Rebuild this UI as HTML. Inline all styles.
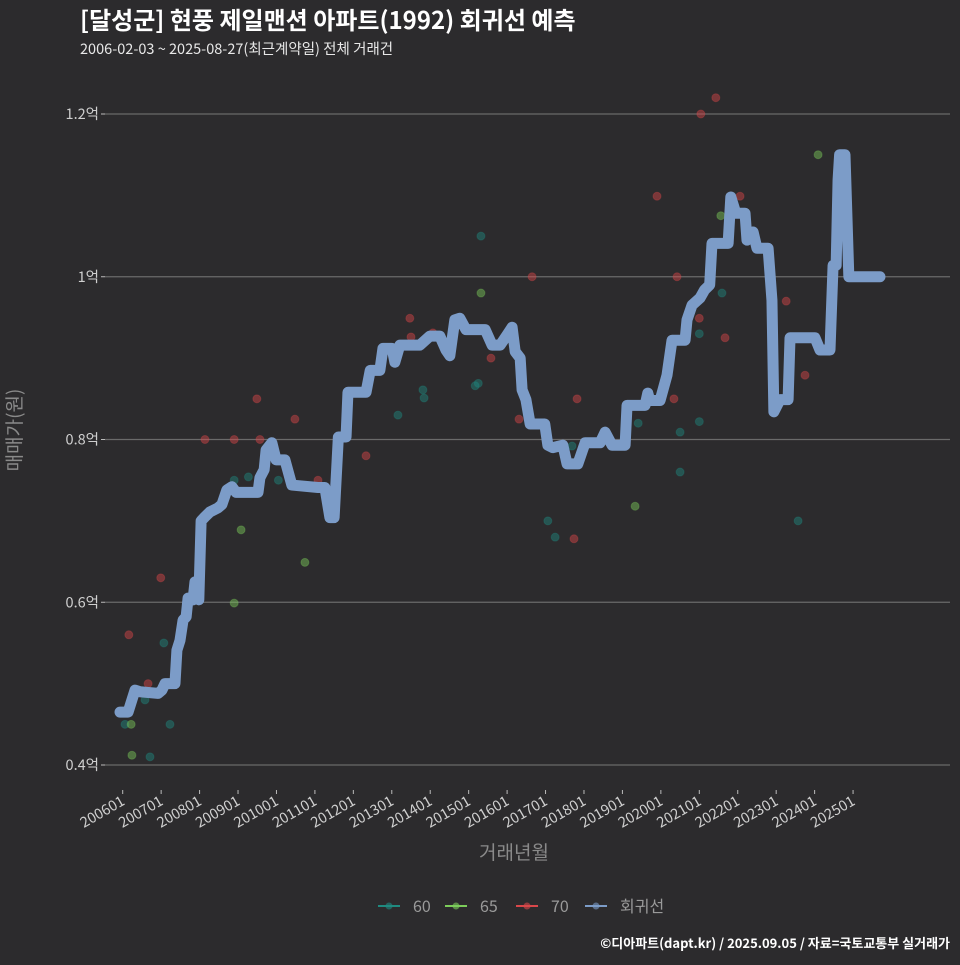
<!DOCTYPE html>
<html><head><meta charset="utf-8"><style>
html,body{margin:0;padding:0;background:#2c2b2d;}
svg text{font-family:"Noto Sans CJK KR","Liberation Sans",sans-serif;}
</style></head><body>
<svg id="chart" width="960" height="960" xmlns="http://www.w3.org/2000/svg">
<rect width="960" height="960" fill="#2c2b2d"/>
<text x="80" y="29" fill="#ffffff" font-size="24" font-weight="bold">[달성군] 현풍 제일맨션 아파트(1992) 회귀선 예측</text>
<text x="80" y="54" fill="#e8e8e8" font-size="14.5">2006-02-03 ~ 2025-08-27(최근계약일) 전체 거래건</text>
<g id="grid"></g>
<g id="xaxis"></g>
<g id="pts"></g>
<g id="line"></g>
<text transform="translate(21,430) rotate(-90)" text-anchor="middle" fill="#8a8a8a" font-size="19">매매가(원)</text>
<text x="514" y="859" text-anchor="middle" fill="#8a8a8a" font-size="19">거래년월</text>
<g id="legend"></g>
<text x="950" y="948" text-anchor="end" fill="#ffffff" font-size="13" font-weight="bold">©디아파트(dapt.kr) / 2025.09.05 / 자료=국토교통부 실거래가</text>
</svg>
<script>
const yTicks=[0.4,0.6,0.8,1.0,1.2];
const yTickLabels=["0.4억","0.6억","0.8억","1억","1.2억"];
const xTickYears=[2006,2007,2008,2009,2010,2011,2012,2013,2014,2015,2016,2017,2018,2019,2020,2021,2022,2023,2024,2025];
const xTickLabels=["200601","200701","200801","200901","201001","201101","201201","201301","201401","201501","201601","201701","201801","201901","202001","202101","202201","202301","202401","202501"];
const lineYears=[2005.93,2006.14,2006.32,2006.45,2006.92,2007.02,2007.10,2007.36,2007.41,2007.49,2007.57,2007.65,2007.70,2007.83,2007.88,2007.98,2008.04,2008.14,2008.27,2008.48,2008.58,2008.71,2008.84,2008.95,2009.52,2009.57,2009.68,2009.73,2009.88,2009.99,2010.22,2010.40,2011.08,2011.26,2011.39,2011.50,2011.61,2011.81,2011.86,2012.33,2012.44,2012.69,2012.77,2013.01,2013.08,2013.21,2013.73,2013.99,2014.25,2014.41,2014.51,2014.64,2014.77,2014.93,2015.43,2015.61,2015.82,2016.02,2016.13,2016.21,2016.34,2016.39,2016.49,2016.60,2016.98,2017.06,2017.19,2017.45,2017.56,2017.84,2018.03,2018.42,2018.55,2018.73,2019.07,2019.12,2019.59,2019.66,2019.71,2019.98,2020.16,2020.29,2020.63,2020.68,2020.81,2021.02,2021.14,2021.27,2021.33,2021.75,2021.82,2021.95,2022.19,2022.24,2022.40,2022.50,2022.79,2022.89,2022.94,2023.10,2023.31,2023.36,2024.01,2024.14,2024.40,2024.48,2024.56,2024.61,2024.65,2024.79,2024.89,2025.70];
const lineValues=[0.465,0.465,0.492,0.490,0.488,0.492,0.500,0.500,0.541,0.553,0.578,0.582,0.605,0.603,0.625,0.603,0.700,0.705,0.711,0.716,0.720,0.738,0.742,0.735,0.735,0.753,0.763,0.787,0.796,0.775,0.775,0.744,0.741,0.741,0.704,0.704,0.803,0.803,0.858,0.858,0.885,0.885,0.912,0.912,0.895,0.916,0.916,0.927,0.927,0.910,0.903,0.947,0.949,0.935,0.935,0.916,0.916,0.930,0.938,0.908,0.900,0.861,0.849,0.819,0.819,0.793,0.790,0.793,0.770,0.770,0.796,0.796,0.809,0.793,0.793,0.842,0.842,0.857,0.848,0.848,0.879,0.922,0.922,0.947,0.965,0.974,0.984,0.990,1.041,1.041,1.098,1.078,1.078,1.045,1.055,1.035,1.035,0.971,0.834,0.849,0.849,0.925,0.925,0.910,0.910,1.014,1.014,1.119,1.150,1.150,1.000,1.000];
const s60Years=[2006.06,2006.58,2006.71,2007.23,2007.07,2008.90,2009.27,2010.05,2013.16,2013.81,2013.84,2015.17,2015.25,2015.32,2017.06,2017.25,2019.41,2020.50,2020.50,2021.00,2021.00,2021.59,2023.57,2017.69];
const s60Values=[0.450,0.480,0.410,0.450,0.550,0.750,0.754,0.750,0.830,0.861,0.851,0.866,0.869,1.050,0.700,0.680,0.820,0.809,0.760,0.822,0.930,0.980,0.700,0.792];
const s65Years=[2006.22,2006.24,2009.08,2008.90,2010.74,2015.32,2019.33,2021.56,2024.09];
const s65Values=[0.450,0.412,0.689,0.599,0.649,0.980,0.718,1.075,1.150];
const s70Years=[2006.16,2006.99,2006.66,2008.14,2008.90,2009.49,2009.57,2010.48,2011.08,2012.33,2013.47,2013.50,2014.07,2015.58,2016.31,2016.65,2017.74,2017.82,2019.90,2020.42,2021.00,2021.04,2021.43,2021.67,2022.06,2023.26,2023.75,2020.34];
const s70Values=[0.560,0.630,0.500,0.800,0.800,0.850,0.800,0.825,0.750,0.780,0.949,0.926,0.931,0.900,0.825,1.000,0.678,0.850,1.099,1.000,0.949,1.200,1.220,0.925,1.099,0.970,0.879,0.850];

const NS="http://www.w3.org/2000/svg";
function X(yr){return 122.7+(yr-2006)*38.44;}
function Y(v){return 765-(v-0.4)*813.75;}
function mk(tag,attrs,parent){const e=document.createElementNS(NS,tag);for(const k in attrs)e.setAttribute(k,attrs[k]);parent.appendChild(e);return e;}
const grid=document.getElementById('grid');
yTicks.forEach((t,i)=>{
  const l=mk('line',{x1:105,x2:950,y1:Y(t),y2:Y(t),stroke:'#6a6a6a','stroke-width':1.2},grid);
  
  
  const tk=mk('line',{x1:101,x2:105,y1:Y(t),y2:Y(t),stroke:'#bbbbbb','stroke-width':1},grid);
  
  
  const tx=mk('text',{x:99,y:Y(t)+5,'text-anchor':'end',fill:'#cfcfcf','font-size':14.5},grid);
  tx.textContent=yTickLabels[i];
  
  
});
const xa=document.getElementById('xaxis');
xTickYears.forEach((yr,i)=>{
  const x=X(yr);
  const tk=mk('line',{x1:x,x2:x,y1:790,y2:794,stroke:'#bbbbbb','stroke-width':1},xa);
  
  
  const tx=mk('text',{x:0,y:0,'text-anchor':'end',fill:'#cfcfcf','font-size':14.5,transform:`translate(${x+3},${804}) rotate(-30)`},xa);
  tx.textContent=xTickLabels[i];
  
  
});
const pts=document.getElementById('pts');
function drawPts(ys,vs,col,name){
  ys.forEach((yr,i)=>{
    const c=mk('circle',{cx:X(yr),cy:Y(vs[i]),r:4,fill:col,'fill-opacity':0.45,stroke:col,'stroke-opacity':0.3,'stroke-width':1},pts);
    
    
  });
}
drawPts(s60Years,s60Values,'#1f8a80','point-60');
drawPts(s65Years,s65Values,'#7ccd5a','point-65');
drawPts(s70Years,s70Values,'#d9474a','point-70');
const lg=document.getElementById('line');
const p=mk('polyline',{points:lineYears.map((yr,i)=>X(yr)+','+Y(lineValues[i])).join(' '),fill:'none',stroke:'#7c9cc8','stroke-width':11,'stroke-linejoin':'round','stroke-linecap':'round'},lg);


const leg=document.getElementById('legend');
const items=[['60','#1f8a80'],['65','#7ccd5a'],['70','#d9474a'],['회귀선','#7c9cc8']];
const lx=[378,445,516,585];
items.forEach((it,i)=>{
  const g=mk('g',{},leg);
  
  
  mk('line',{x1:lx[i],x2:lx[i]+22,y1:906,y2:906,stroke:it[1],'stroke-width':2},g);
  mk('circle',{cx:lx[i]+11,cy:906,r:3.5,fill:it[1],'fill-opacity':0.6},g);
  const t=mk('text',{x:lx[i]+35,y:912,fill:'#9a9a9a','font-size':16},g);
  t.textContent=it[0];
});
</script>
</body></html>
